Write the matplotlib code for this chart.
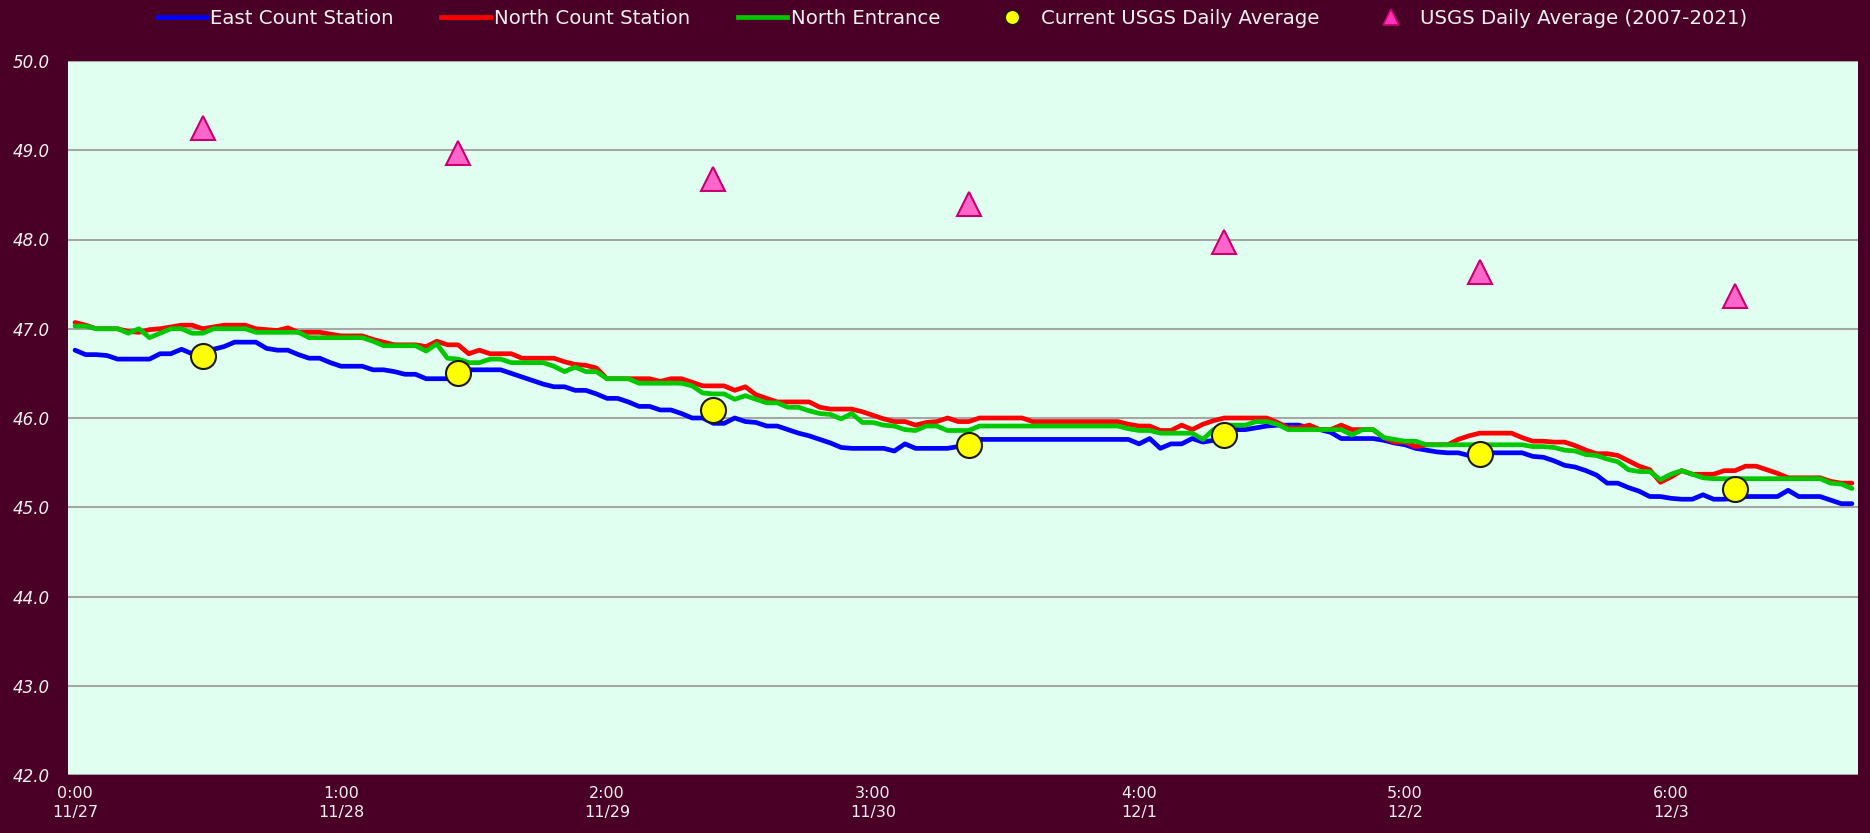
import numpy as np
import matplotlib.pyplot as plt
from matplotlib.lines import Line2D

# hourly readings, 11/27 0:00 -> 12/3 23:00
hours = np.arange(168)

east = [
    46.76, 46.71, 46.71, 46.70, 46.66, 46.66, 46.66, 46.66, 46.72, 46.72,
    46.77, 46.72, 46.70, 46.77, 46.80, 46.85, 46.85, 46.85, 46.78, 46.76,
    46.76, 46.71, 46.67, 46.67, 46.62, 46.58, 46.58, 46.58, 46.54, 46.54,
    46.52, 46.49, 46.49, 46.44, 46.44, 46.44, 46.48, 46.54, 46.54, 46.54,
    46.54, 46.50, 46.46, 46.42, 46.38, 46.35, 46.35, 46.31, 46.31, 46.27,
    46.22, 46.22, 46.18, 46.13, 46.13, 46.09, 46.09, 46.05, 46.00, 46.00,
    45.94, 45.94, 46.00, 45.96, 45.95, 45.91, 45.91, 45.87, 45.83, 45.80,
    45.76, 45.72, 45.67, 45.66, 45.66, 45.66, 45.66, 45.63, 45.71, 45.66,
    45.66, 45.66, 45.66, 45.68, 45.72, 45.76, 45.76, 45.76, 45.76, 45.76,
    45.76, 45.76, 45.76, 45.76, 45.76, 45.76, 45.76, 45.76, 45.76, 45.76,
    45.71, 45.77, 45.66, 45.71, 45.71, 45.77, 45.73, 45.75, 45.80, 45.87,
    45.87, 45.89, 45.91, 45.92, 45.92, 45.92, 45.89, 45.87, 45.84, 45.77,
    45.77, 45.77, 45.77, 45.75, 45.72, 45.70, 45.66, 45.64, 45.62, 45.61,
    45.61, 45.58, 45.58, 45.61, 45.61, 45.61, 45.61, 45.57, 45.56, 45.52,
    45.47, 45.45, 45.41, 45.36, 45.27, 45.27, 45.22, 45.18, 45.12, 45.12,
    45.10, 45.09, 45.09, 45.14, 45.09, 45.09, 45.10, 45.12, 45.12, 45.12,
    45.12, 45.19, 45.12, 45.12, 45.12, 45.08, 45.04, 45.04]

north = [
    47.07, 47.04, 47.00, 47.00, 47.00, 46.97, 46.96, 46.99, 47.00, 47.02,
    47.04, 47.04, 47.00, 47.02, 47.04, 47.04, 47.04, 47.00, 46.99, 46.98,
    47.01, 46.96, 46.96, 46.96, 46.94, 46.92, 46.92, 46.92, 46.88, 46.85,
    46.82, 46.82, 46.82, 46.80, 46.86, 46.82, 46.82, 46.72, 46.76, 46.72,
    46.72, 46.72, 46.67, 46.67, 46.67, 46.67, 46.63, 46.60, 46.59, 46.56,
    46.44, 46.44, 46.44, 46.44, 46.44, 46.41, 46.44, 46.44, 46.40, 46.36,
    46.36, 46.36, 46.31, 46.35, 46.26, 46.22, 46.18, 46.18, 46.18, 46.18,
    46.12, 46.10, 46.10, 46.10, 46.07, 46.03, 45.99, 45.96, 45.96, 45.92,
    45.95, 45.96, 46.00, 45.96, 45.96, 46.00, 46.00, 46.00, 46.00, 46.00,
    45.96, 45.96, 45.96, 45.96, 45.96, 45.96, 45.96, 45.96, 45.96, 45.93,
    45.91, 45.91, 45.86, 45.86, 45.92, 45.87, 45.93, 45.97, 46.00, 46.00,
    46.00, 46.00, 46.00, 45.95, 45.89, 45.89, 45.92, 45.87, 45.87, 45.92,
    45.87, 45.87, 45.87, 45.78, 45.73, 45.73, 45.68, 45.70, 45.70, 45.70,
    45.76, 45.80, 45.83, 45.83, 45.83, 45.83, 45.78, 45.74, 45.74, 45.73,
    45.73, 45.69, 45.64, 45.60, 45.60, 45.58, 45.52, 45.46, 45.42, 45.28,
    45.34, 45.41, 45.37, 45.37, 45.37, 45.41, 45.41, 45.46, 45.46, 45.42,
    45.38, 45.33, 45.33, 45.33, 45.33, 45.29, 45.27, 45.27]

entrance = [
    47.03, 47.03, 47.00, 47.00, 47.00, 46.95, 47.00, 46.90, 46.95, 47.00,
    47.00, 46.95, 46.95, 47.00, 47.00, 47.00, 47.00, 46.96, 46.96, 46.96,
    46.96, 46.96, 46.90, 46.90, 46.90, 46.90, 46.90, 46.90, 46.86, 46.81,
    46.81, 46.81, 46.81, 46.75, 46.83, 46.67, 46.66, 46.62, 46.62, 46.66,
    46.66, 46.62, 46.62, 46.62, 46.62, 46.58, 46.52, 46.57, 46.52, 46.52,
    46.44, 46.44, 46.44, 46.39, 46.39, 46.39, 46.39, 46.39, 46.36, 46.28,
    46.27, 46.27, 46.21, 46.25, 46.21, 46.17, 46.17, 46.12, 46.12, 46.08,
    46.05, 46.04, 45.99, 46.05, 45.95, 45.95, 45.92, 45.91, 45.87, 45.86,
    45.91, 45.91, 45.86, 45.86, 45.86, 45.91, 45.91, 45.91, 45.91, 45.91,
    45.91, 45.91, 45.91, 45.91, 45.91, 45.91, 45.91, 45.91, 45.91, 45.88,
    45.86, 45.86, 45.83, 45.83, 45.83, 45.83, 45.76, 45.87, 45.92, 45.92,
    45.92, 45.96, 45.96, 45.93, 45.87, 45.87, 45.87, 45.87, 45.87, 45.87,
    45.81, 45.87, 45.87, 45.78, 45.76, 45.74, 45.74, 45.70, 45.70, 45.70,
    45.70, 45.70, 45.70, 45.70, 45.70, 45.70, 45.70, 45.68, 45.68, 45.67,
    45.64, 45.63, 45.59, 45.58, 45.54, 45.51, 45.42, 45.40, 45.40, 45.31,
    45.37, 45.41, 45.37, 45.33, 45.32, 45.32, 45.32, 45.32, 45.32, 45.32,
    45.32, 45.32, 45.32, 45.32, 45.32, 45.27, 45.26, 45.21]

# daily values plotted at noon of each day
daily_hours = [12, 36, 60, 84, 108, 132, 156]
usgs_current = [46.70, 46.50, 46.09, 45.70, 45.81, 45.60, 45.20]
usgs_hist = [49.25, 48.97, 48.68, 48.40, 47.97, 47.64, 47.37]

tick_hours = [0, 25, 50, 75, 100, 125, 150]
tick_labels = ['0:00\n11/27', '1:00\n11/28', '2:00\n11/29', '3:00\n11/30',
               '4:00\n12/1', '5:00\n12/2', '6:00\n12/3']

bg = '#4a0026'
txt = '#f0f0f0'

fig = plt.figure(figsize=(18.7, 8.33), dpi=100, facecolor=bg)
ax = fig.add_axes([68 / 1870, 1 - 775 / 833, (1858 - 68) / 1870, (775 - 61) / 833])
ax.set_facecolor('#e1fff0')

lw = 3.4
ax.plot(hours, east, color='#0000ff', lw=lw, solid_joinstyle='round', solid_capstyle='round', zorder=3)
ax.plot(hours, north, color='#ff0000', lw=lw, solid_joinstyle='round', solid_capstyle='round', zorder=3)
ax.plot(hours, entrance, color='#00c800', lw=lw, solid_joinstyle='round', solid_capstyle='round', zorder=3)
ax.plot(daily_hours, usgs_current, 'o', ms=18, mfc='#ffff00', mec='#1a1a1a', mew=1.5, zorder=5)
ax.plot(daily_hours, usgs_hist, '^', ms=17, mfc='#ff66cc', mec='#c8006e', mew=1.5, zorder=5)

ax.set_xlim(-0.66, 167.57)
ax.set_ylim(42, 50)
ax.set_yticks(np.arange(42, 50.5, 1.0))
ax.set_yticklabels([f'{v:.1f}' for v in np.arange(42, 50.5, 1.0)], fontsize=12, style='italic')
ax.set_xticks(tick_hours)
ax.set_xticklabels(tick_labels, fontsize=11.5, linespacing=1.35)
ax.tick_params(axis='y', length=0, colors=txt, pad=13)
ax.tick_params(axis='x', length=0, colors=txt, pad=8)
ax.yaxis.grid(True, color='#a6a6a6', lw=1.5)
ax.set_axisbelow(True)
for s in ax.spines.values():
    s.set_visible(False)

handles = [
    Line2D([], [], color='#0000ff', lw=lw),
    Line2D([], [], color='#ff0000', lw=lw),
    Line2D([], [], color='#00c800', lw=lw),
    Line2D([], [], ls='none', marker='o', ms=10.5, mfc='#ffff00', mec='#1a1a1a', mew=1.2),
    Line2D([], [], ls='none', marker='^', ms=11, mfc='#ff33bb', mec='#c8006e', mew=1.2),
]
labels = ['East Count Station', 'North Count Station', 'North Entrance',
          'Current USGS Daily Average', 'USGS Daily Average (2007-2021)']
fig.legend(handles, labels, loc='center', bbox_to_anchor=(952 / 1870, 1 - 18 / 833),
           ncol=5, frameon=False, fontsize=14.2, labelcolor=txt, handlelength=2.5,
           handletextpad=0.2, columnspacing=2.4, numpoints=1)

fig.savefig('out.png', dpi=100, facecolor=bg)
